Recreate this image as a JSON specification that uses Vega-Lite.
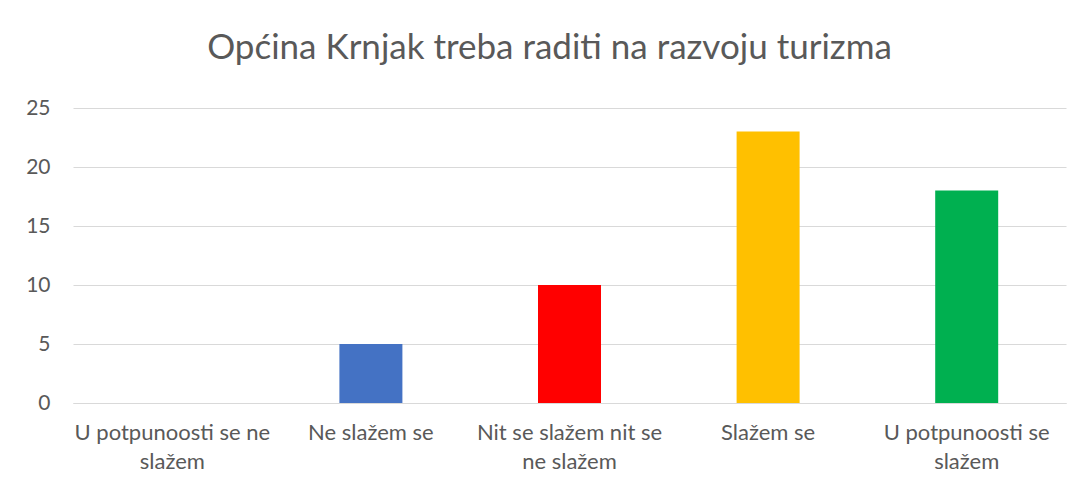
{
  "$schema": "https://vega.github.io/schema/vega-lite/v6.json",
  "width": 993,
  "height": 295,
  "autosize": "none",
  "padding": {"left": 73, "top": 108, "right": 16, "bottom": 85},
  "background": "white",
  "config": {"font": "Lato", "view": {"stroke": null}},
  "title": {
    "text": "Općina Krnjak treba raditi na razvoju turizma",
    "font": "Lato",
    "fontSize": 35,
    "fontWeight": "normal",
    "color": "#595959",
    "offset": 31,
    "dx": -20
  },
  "data": {
    "values": [
      {"odgovor": "U potpunoosti se ne|slažem", "broj": 0},
      {"odgovor": "Ne slažem se", "broj": 5},
      {"odgovor": "Nit se slažem nit se|ne slažem", "broj": 10},
      {"odgovor": "Slažem se", "broj": 23},
      {"odgovor": "U potpunoosti se|slažem", "broj": 18}
    ]
  },
  "mark": {"type": "bar", "width": 63},
  "encoding": {
    "x": {
      "field": "odgovor",
      "type": "nominal",
      "sort": null,
      "scale": {"paddingInner": 0, "paddingOuter": 0},
      "axis": {
        "title": null,
        "labelAngle": 0,
        "labelExpr": "split(datum.label, '|')",
        "labelFontSize": 22,
        "labelLineHeight": 29,
        "labelColor": "#595959",
        "labelPadding": 19,
        "labelLimit": 0,
        "ticks": false,
        "domainColor": "#D9D9D9",
        "domainWidth": 1,
        "grid": false
      }
    },
    "y": {
      "field": "broj",
      "type": "quantitative",
      "scale": {"domain": [0, 25]},
      "axis": {
        "title": null,
        "values": [0, 5, 10, 15, 20, 25],
        "labelFontSize": 21,
        "labelColor": "#595959",
        "labelPadding": 23,
        "ticks": false,
        "domain": false,
        "grid": true,
        "gridColor": "#D9D9D9",
        "gridWidth": 1
      }
    },
    "color": {
      "field": "odgovor",
      "type": "nominal",
      "sort": null,
      "scale": {
        "domain": ["U potpunoosti se ne|slažem", "Ne slažem se", "Nit se slažem nit se|ne slažem", "Slažem se", "U potpunoosti se|slažem"],
        "range": ["#A5A5A5", "#4472C4", "#FF0000", "#FFC000", "#00B050"]
      },
      "legend": null
    }
  }
}
